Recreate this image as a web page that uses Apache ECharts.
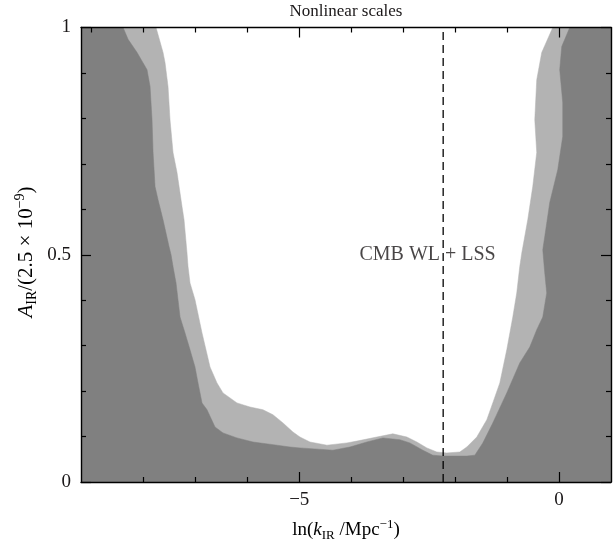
<!DOCTYPE html>
<html>
<head>
<meta charset="utf-8">
<script src="https://cdn.jsdelivr.net/npm/echarts@6/dist/echarts.min.js"></script>
<style>
  html, body { margin: 0; padding: 0; background: #fff; }
  #chart { width: 616px; height: 544px; }
</style>
</head>
<body>
<div id="chart"></div>
<script>
// Upper edge of the light-grey (2-sigma) excluded region, traced left top -> trough -> right top
const lightBoundary = [
  [-7.756, 1.000], [-7.621, 0.945], [-7.583, 0.923], [-7.525, 0.870], [-7.487, 0.797],
  [-7.429, 0.725], [-7.352, 0.681], [-7.256, 0.606], [-7.217, 0.577], [-7.160, 0.504],
  [-7.140, 0.474], [-7.102, 0.438], [-7.006, 0.401], [-6.871, 0.328], [-6.717, 0.253],
  [-6.583, 0.218], [-6.467, 0.196], [-6.198, 0.174], [-5.948, 0.165], [-5.698, 0.159],
  [-5.506, 0.148], [-5.313, 0.130], [-5.121, 0.110], [-4.987, 0.099], [-4.794, 0.088],
  [-4.467, 0.081], [-4.083, 0.086], [-3.890, 0.090], [-3.506, 0.099], [-3.198, 0.106],
  [-2.929, 0.099], [-2.737, 0.088], [-2.544, 0.075], [-2.352, 0.066], [-2.160, 0.064],
  [-1.910, 0.066], [-1.775, 0.077], [-1.583, 0.099], [-1.390, 0.137], [-1.275, 0.174],
  [-1.140, 0.218], [-1.006, 0.291], [-0.890, 0.363], [-0.814, 0.416], [-0.756, 0.474],
  [-0.717, 0.504], [-0.602, 0.577], [-0.506, 0.650], [-0.429, 0.725], [-0.467, 0.797],
  [-0.429, 0.885], [-0.333, 0.945], [-0.121, 1.000]
];

// Upper edge of the dark-grey (1-sigma) excluded region
const darkBoundary = [
  [-8.390, 1.000], [-8.294, 0.974], [-8.121, 0.945], [-7.929, 0.907], [-7.871, 0.870],
  [-7.833, 0.797], [-7.813, 0.725], [-7.775, 0.650], [-7.717, 0.621], [-7.621, 0.577],
  [-7.506, 0.518], [-7.467, 0.500], [-7.429, 0.474], [-7.371, 0.438], [-7.294, 0.363],
  [-7.198, 0.328], [-7.102, 0.291], [-7.006, 0.253], [-6.948, 0.218], [-6.871, 0.174],
  [-6.775, 0.159], [-6.621, 0.121], [-6.467, 0.108], [-6.198, 0.097], [-5.890, 0.088],
  [-5.429, 0.081], [-5.179, 0.077], [-4.987, 0.075], [-4.352, 0.070], [-4.025, 0.077],
  [-3.698, 0.088], [-3.391, 0.097], [-3.063, 0.093], [-2.871, 0.086], [-2.621, 0.070],
  [-2.429, 0.059], [-2.237, 0.057], [-1.775, 0.057], [-1.621, 0.059], [-1.467, 0.086],
  [-1.275, 0.130], [-1.006, 0.196], [-0.756, 0.262], [-0.563, 0.297], [-0.429, 0.335],
  [-0.313, 0.363], [-0.237, 0.416], [-0.275, 0.460], [-0.313, 0.511], [-0.275, 0.540],
  [-0.179, 0.615], [-0.025, 0.687], [0.071, 0.760], [0.071, 0.835], [0.013, 0.907],
  [0.052, 0.958], [0.206, 1.000]
];

const xRange = [-9.2, 1.0];
const yRange = [0, 1];
const xMajorTicks = [-5, 0];
const xMinorTicksBottom = [-8, -7, -6, -4, -3, -2, -1];
const xMinorTicksTop = [-9, -8, -7, -6, -4, -3, -2, -1];
const yMajorTicks = [0, 0.5, 1];
const yMinorTicks = [0.1, 0.2, 0.3, 0.4, 0.6, 0.7, 0.8, 0.9];

const pivotScale = -2.23;          // dashed reference line
const pivotLabel = 'CMB WL + LSS';
const pivotLabelAt = [-2.53, 0.5];

const TEXT = '#1a1718';
const SERIF = '"Liberation Serif", "DejaVu Serif", serif';
const DARK = '#808080';
const LIGHT = '#b3b3b3';

function xAxisDef(pos, ticks, len, withLine, withLabels) {
  return {
    type: 'value', position: pos, min: xRange[0], max: xRange[1], z: 10,
    axisLine: { show: withLine, onZero: false, lineStyle: { color: '#000', width: 1.4 } },
    axisTick: { show: true, inside: true, length: len, customValues: ticks,
                lineStyle: { color: '#000', width: 1.2 } },
    axisLabel: withLabels ? {
      show: true, customValues: ticks, margin: 9,
      color: TEXT, fontFamily: SERIF, fontSize: 19,
      formatter: v => String(v).replace('-', '\u2212')
    } : { show: false },
    splitLine: { show: false }
  };
}

function yAxisDef(pos, ticks, len, withLine, withLabels) {
  return {
    type: 'value', position: pos, min: yRange[0], max: yRange[1], z: 10,
    axisLine: { show: withLine, onZero: false, lineStyle: { color: '#000', width: 1.4 } },
    axisTick: { show: true, inside: true, length: len, customValues: ticks,
                lineStyle: { color: '#000', width: 1.2 } },
    axisLabel: withLabels ? {
      show: true, customValues: ticks, margin: 10,
      color: TEXT, fontFamily: SERIF, fontSize: 19,
      formatter: v => String(v)
    } : { show: false },
    splitLine: { show: false }
  };
}

function regionSeries(boundary, color, z) {
  const outline = boundary.concat([
    [xRange[1], yRange[1]], [xRange[1], yRange[0]],
    [xRange[0], yRange[0]], [xRange[0], yRange[1]]
  ]);
  return {
    type: 'custom', coordinateSystem: 'cartesian2d',
    xAxisIndex: 0, yAxisIndex: 0, silent: true, clip: true, z: z,
    data: [[xRange[0], yRange[0]]],
    renderItem: function (params, api) {
      return {
        type: 'polygon',
        shape: { points: outline.map(p => api.coord(p)) },
        style: { fill: color, stroke: color, lineWidth: 0.5 }
      };
    }
  };
}

function richTitle(size, subSize) {
  return {
    n: { fontFamily: SERIF, fontSize: size, lineHeight: size + 5, color: TEXT },
    i: { fontFamily: SERIF, fontSize: size, lineHeight: size + 5, fontStyle: 'italic', color: TEXT },
    s: { fontFamily: SERIF, fontSize: subSize, lineHeight: subSize, verticalAlign: 'bottom', color: TEXT },
    p: { fontFamily: SERIF, fontSize: subSize, lineHeight: subSize, verticalAlign: 'top', color: TEXT }
  };
}

const chart = echarts.init(document.getElementById('chart'), null, { renderer: 'canvas' });

chart.setOption({
  animation: false,
  backgroundColor: '#fff',
  grid: { left: 81, right: 5, top: 27.5, bottom: 62, containLabel: false },
  xAxis: [
    xAxisDef('bottom', xMajorTicks, 10, true, true),
    xAxisDef('bottom', xMinorTicksBottom, 5, false, false),
    xAxisDef('top', xMajorTicks, 10, true, false),
    xAxisDef('top', xMinorTicksTop, 5, false, false)
  ],
  yAxis: [
    yAxisDef('left', yMajorTicks, 10, true, true),
    yAxisDef('left', yMinorTicks, 5, false, false),
    yAxisDef('right', yMajorTicks, 10, true, false),
    yAxisDef('right', yMinorTicks, 5, false, false)
  ],
  series: [
    regionSeries(lightBoundary, LIGHT, 1),
    regionSeries(darkBoundary, DARK, 2),
    {
      type: 'line', xAxisIndex: 0, yAxisIndex: 0, z: 5, silent: true,
      data: [[pivotScale, yRange[0]], [pivotScale, yRange[1]]],
      symbol: 'none',
      lineStyle: { color: '#000', width: 1.3, type: [8, 5] }
    },
    {
      type: 'scatter', xAxisIndex: 0, yAxisIndex: 0, z: 6, silent: true,
      data: [pivotLabelAt], symbolSize: 0,
      label: {
        show: true, position: 'inside', formatter: pivotLabel,
        color: TEXT, fontFamily: SERIF, fontSize: 20
      }
    }
  ],
  graphic: [
    {
      type: 'text', x: 346, y: 12,
      style: {
        text: 'Nonlinear scales',
        fill: TEXT, font: '17px ' + SERIF,
        textAlign: 'center', textVerticalAlign: 'middle'
      }
    },
    {
      type: 'text', x: 346, y: 530,
      style: {
        text: '{n|ln(}{i|k}{s|IR}{n| /Mpc}{p|\u22121}{n|)}',
        textAlign: 'center', textVerticalAlign: 'middle',
        rich: richTitle(19, 13)
      }
    },
    {
      type: 'text', x: 26, y: 252, rotation: Math.PI / 2,
      style: {
        text: '{i|A}{s|IR}{n|/(2.5 \u00d7 10}{p|\u22129}{n|)}',
        textAlign: 'center', textVerticalAlign: 'middle',
        rich: richTitle(21, 14)
      }
    }
  ]
});
</script>
</body>
</html>
